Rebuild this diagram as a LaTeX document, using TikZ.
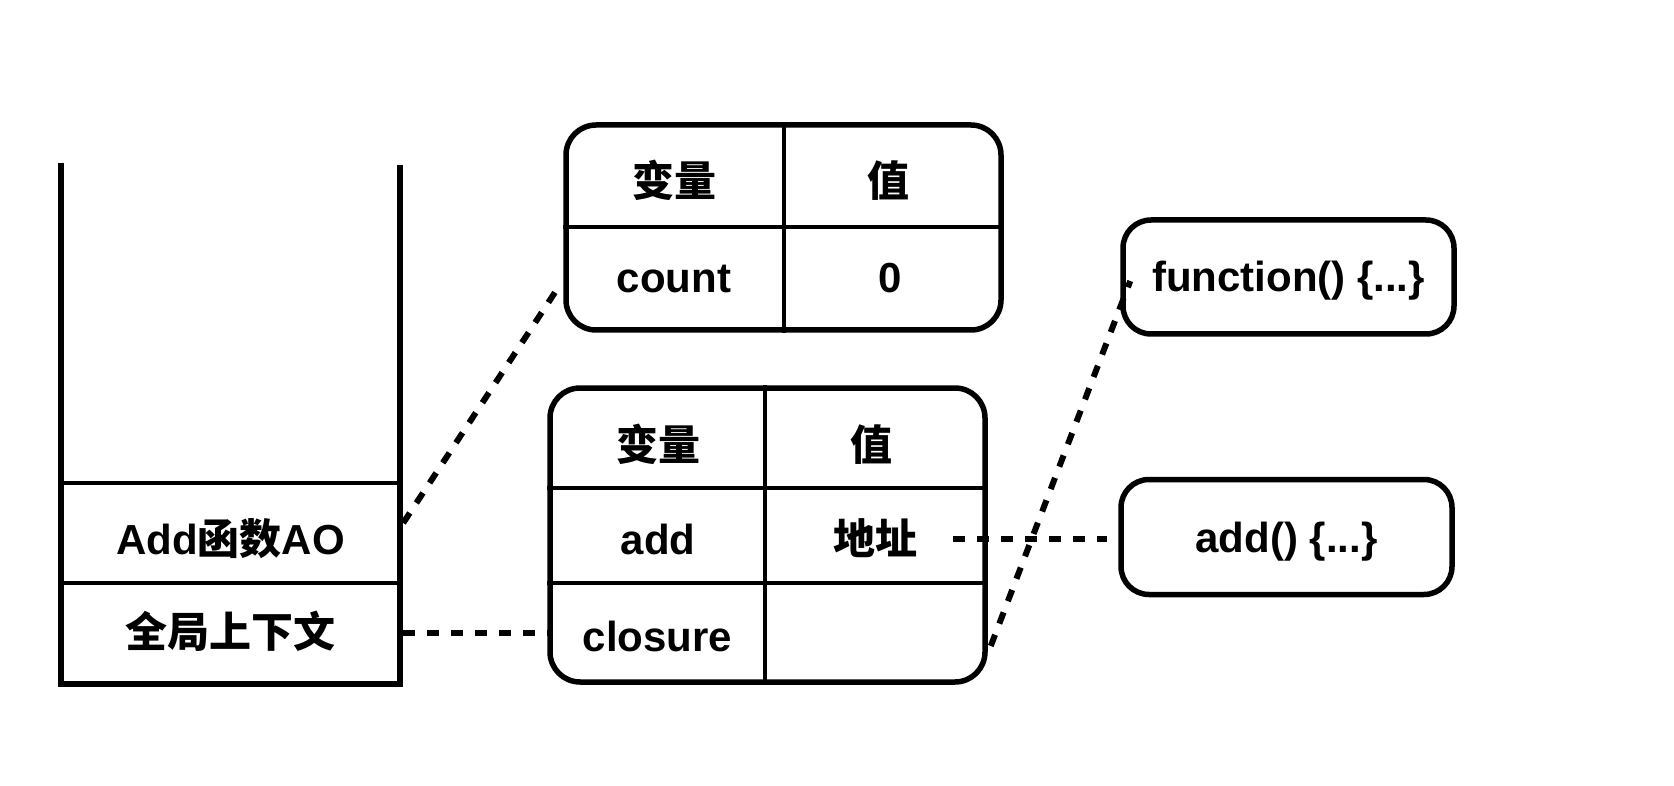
\documentclass[tikz,border=0pt]{standalone}
\usepackage{fontspec}
\setmainfont{Liberation Sans}
\newfontfamily\cjkb{Noto Sans CJK SC Bold}
\usetikzlibrary{calc}
\begin{document}
\begin{tikzpicture}[x=1pt,y=-1pt,
  frame/.style={draw, line width=5.5pt, rounded corners=30pt, inner sep=0pt},
  divider/.style={line width=4pt},
  wall/.style={line width=5.5pt},
  txt/.style={font=\fontsize{42}{50}\selectfont\bfseries, inner sep=0pt, text height=30pt, text depth=0pt},
  link/.style={line width=6pt, dash pattern=on 12pt off 12pt},
]
\useasboundingbox[fill=white] (0,0) rectangle (1674,786);

% stack
\draw[wall] (61,163) -- (61,684) -- (400,684) -- (400,165);
\draw[divider] (61,483) -- (400,483);
\draw[divider] (61,583) -- (400,583);
\node[txt, minimum width=339pt] (ao) at (230.5,539) {Add{\cjkb 函数}AO};
\node[txt, minimum width=339pt] (gl) at (230.5,632.5) {\cjkb 全局上下文};

% table 1
\node[frame, minimum width=435pt, minimum height=205pt] (t1) at (783.5,227.5) {};
\draw[divider] (t1.north) -- (t1.south);
\draw[divider] (t1.west) -- (t1.east);
\node[txt] (t1h1) at (674,182) {\cjkb 变量};
\node[txt] (t1h2) at (888,182) {\cjkb 值};
\node[txt] (t1k) at (674,278) {count};
\node[txt] (t1v) at (890,278) {0};

% table 2
\node[frame, minimum width=435pt, minimum height=294pt] (t2) at (767.5,535) {};
\draw[divider] ($(t2.north)+(-2.5,0)$) -- ($(t2.south)+(-2.5,0)$);
\draw[divider] ($(t2.north west)+(0,103)$) -- ($(t2.north east)+(0,103)$);
\draw[divider] ($(t2.north west)+(0,198)$) -- ($(t2.north east)+(0,198)$);
\node[txt] (t2h1) at (658,445) {\cjkb 变量};
\node[txt] (t2h2) at (871,445) {\cjkb 值};
\node[txt] (t2k) at (658,539) {add};
\node[txt] (addr) at (875,539) {\cjkb 地址};
\node[txt, minimum width=215pt] (cl) at (657.5,636) {closure};

% function boxes
\node[frame, txt, rounded corners=28pt, minimum width=331pt, minimum height=114pt] (fn) at (1288.5,277) {function() \{...\}};
\node[frame, txt, rounded corners=28pt, minimum width=331pt, minimum height=115pt] (ab) at (1286.5,537) {add() \{...\}};

% links
\draw[link] ($(ao.east)+(3,-16)$) -- ($(t1.west)+(-8,64.5)$);
\draw[link] ($(gl.east)+(3,0)$) -- (gl.east -| cl.west);
\coordinate (abw) at ($(ab.west)+(-11,0)$);
\draw[link] ($(addr.east)+(36,0)$) -- (abw |- addr.east);
\draw[link] ($(t2.east)+(3,111)$) -- ($(fn.west)+(10,4)$);
\end{tikzpicture}
\end{document}
